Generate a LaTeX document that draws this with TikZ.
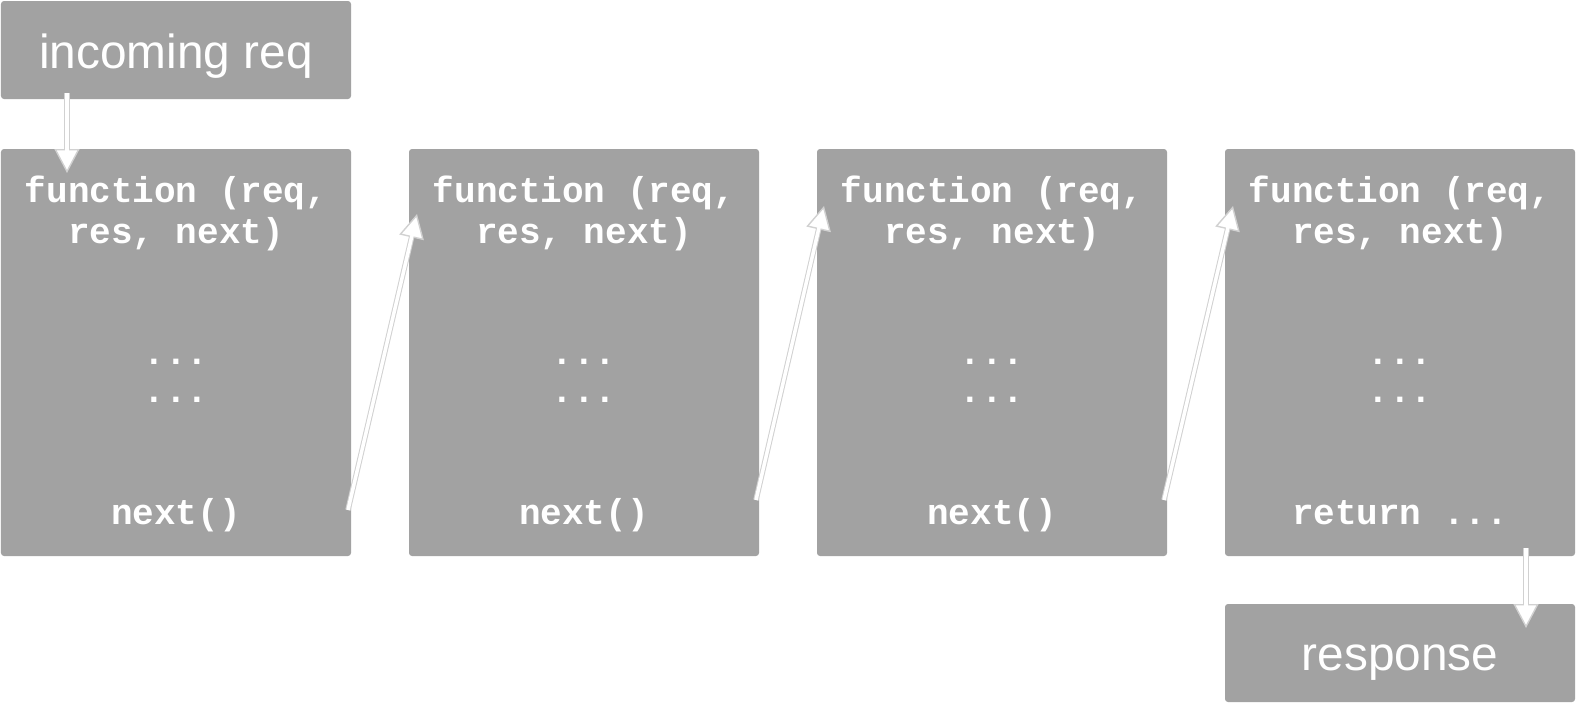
\documentclass[tikz,border=0pt]{standalone}
\usepackage{fontspec}
\setmainfont{Liberation Sans}
\newfontfamily\codefont{Liberation Mono}
\usetikzlibrary{arrows.meta}
\definecolor{boxgray}{HTML}{A2A2A2}
\tikzset{
  box/.style={fill=boxgray, draw=none, rounded corners=0.03cm, inner sep=0pt, minimum width=3.5cm},
  fbox/.style={box, minimum height=4.07cm},
  tbox/.style={box, minimum height=0.98cm},
  label/.style={text=white, font=\fontsize{13.6}{16}\selectfont, inner sep=0pt},
  code/.style={text=white, font=\codefont\bfseries\fontsize{10.24}{11.7}\selectfont, inner sep=0pt, align=center},
  flowedge/.style={draw=black!18, line width=0.055cm, -{Triangle[length=0.24cm, width=0.25cm, fill=white, line width=0.4pt]}},
  flowcore/.style={draw=white, line width=0.035cm, shorten >=0.2cm},
}
\begin{document}
\begin{tikzpicture}[x=1cm, y=-1cm]
\useasboundingbox (0,0) rectangle (15.76,7.04);
% top box
\node[tbox] (inc) at (1.76,0.50) {};
\node[label] (inctext) at (1.76,0.56) {incoming req};
% function boxes
\foreach \i/\x in {1/1.76, 2/5.84, 3/9.92, 4/14.00}{
  \node[fbox] (f\i) at (\x,3.525) {};
  \node[code] (h\i) at (\x,2.13) {function (req,\\res, next)};
  \node[code] (da\i) at (\x,3.62) {...};
  \node[code] (db\i) at (\x,4.00) {...};
}
\foreach \i/\x in {1/1.76, 2/5.84, 3/9.92}{
  \node[code] (n\i) at (\x,5.15) {next()};
}
\node[code] (r4) at (14.00,5.13) {return ...};
% response box
\node[tbox] (resp) at (14.00,6.53) {};
\node[label] (resptext) at (14.00,6.63) {response};
% arrow endpoints
\coordinate (a0s) at (0.67,0.93);
\coordinate (a0e) at (0.67,1.73);
\coordinate (a1s) at (3.48,5.10);
\coordinate (a1e) at (4.17,2.14);
\coordinate (a2s) at (7.56,5.00);
\coordinate (a2e) at (8.24,2.06);
\coordinate (a3s) at (11.64,5.00);
\coordinate (a3e) at (12.33,2.06);
\coordinate (a4s) at (15.26,5.48);
\coordinate (a4e) at (15.26,6.28);
\foreach \k in {0,...,4}{
  \draw[flowedge] (a\k s) -- (a\k e);
  \draw[flowcore] (a\k s) -- (a\k e);
}
\end{tikzpicture}
\end{document}
